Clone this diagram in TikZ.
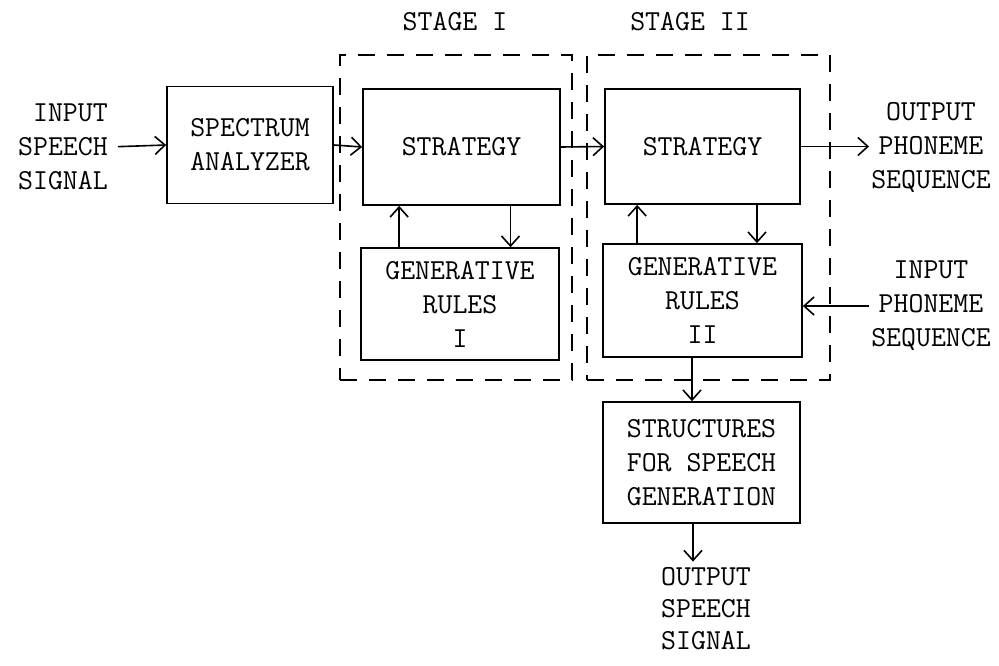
\documentclass[tikz,border=0pt]{standalone}
\usepackage{fontspec}
\usetikzlibrary{arrows.meta,calc}
\begin{document}
\begin{tikzpicture}[x=1pt,y=-1pt,
  every node/.style={font=\fontsize{29}{34}\selectfont\ttfamily\addfontfeatures{FakeBold=1.2}, align=center, inner sep=0pt},
  blk/.style={draw, line width=1.7pt},
  stagebox/.style={draw, line width=1.7pt, dash pattern=on 17pt off 12pt},
  arr/.style={line width=1.6pt, -{Straight Barb[length=10pt,width=18pt]}}
]
\useasboundingbox (0,0) rectangle (999,665);

% stage boxes
\node[stagebox, minimum width=232pt, minimum height=325pt] (stI) at (456,217.5) {};
\node[stagebox, minimum width=243pt, minimum height=325pt] (stII) at (708.5,217.5) {};
\node (labI) at (455,22) {STAGE I};
\node (labII) at (690,22) {STAGE II};

% blocks
\node[blk, minimum width=166pt, minimum height=117pt] (sa) at (250,145) {SPECTRUM\\ANALYZER};
\node[blk, minimum width=197pt, minimum height=116pt] (s1) at (461.5,147) {STRATEGY};
\node[blk, minimum width=198pt, minimum height=112pt] (g1) at (460,304) {GENERATIVE\\RULES\\I};
\node[blk, minimum width=195pt, minimum height=115pt] (s2) at (702.5,146.5) {STRATEGY};
\node[blk, minimum width=199pt, minimum height=113pt] (g2) at (702.5,300.5) {GENERATIVE\\RULES\\II};
\node[blk, minimum width=197pt, minimum height=121pt] (st) at (701.5,462.5) {STRUCTURES\\FOR SPEECH\\GENERATION};

% texts
\node[align=right, anchor=east] (inp) at (108,147) {INPUT\\SPEECH\\SIGNAL};
\node (outp) at (931,147) {OUTPUT\\PHONEME\\SEQUENCE};
\node (inph) at (931,306) {INPUT\\PHONEME\\SEQUENCE};
\node[font=\fontsize{29}{32}\selectfont\ttfamily\addfontfeatures{FakeBold=1.2}] (outs) at (706,609) {OUTPUT\\SPEECH\\SIGNAL};

% connectors
\draw[arr, shorten <=10pt] (inp.east) -- (sa.west);
\draw[arr] (sa.east) -- (s1.west);
\draw[arr] (s1.east) -- (s2.west);
\draw[arr, shorten >=2pt] (s2.east) -- (s2.east -| outp.west);
\draw[arr, shorten <=2pt] (inph.west) -- (inph.west -| g2.east);

\draw[arr] ([xshift=39pt]g1.north west) -- ([xshift=39pt]g1.north west |- s1.south);
\draw[arr] ([xshift=49pt]s1.south) -- ([xshift=49pt]s1.south |- g1.north);
\draw[arr] ([xshift=35pt]g2.north west) -- ([xshift=35pt]g2.north west |- s2.south);
\draw[arr] ([xshift=54.5pt]s2.south) -- ([xshift=54.5pt]s2.south |- g2.north);

\draw[arr] ([xshift=-10.5pt]g2.south) -- ([xshift=-10.5pt]g2.south |- st.north);
\draw[arr, shorten >=6pt] ([xshift=-8.5pt]st.south) -- ([xshift=-8.5pt]st.south |- outs.north);
\end{tikzpicture}
\end{document}
